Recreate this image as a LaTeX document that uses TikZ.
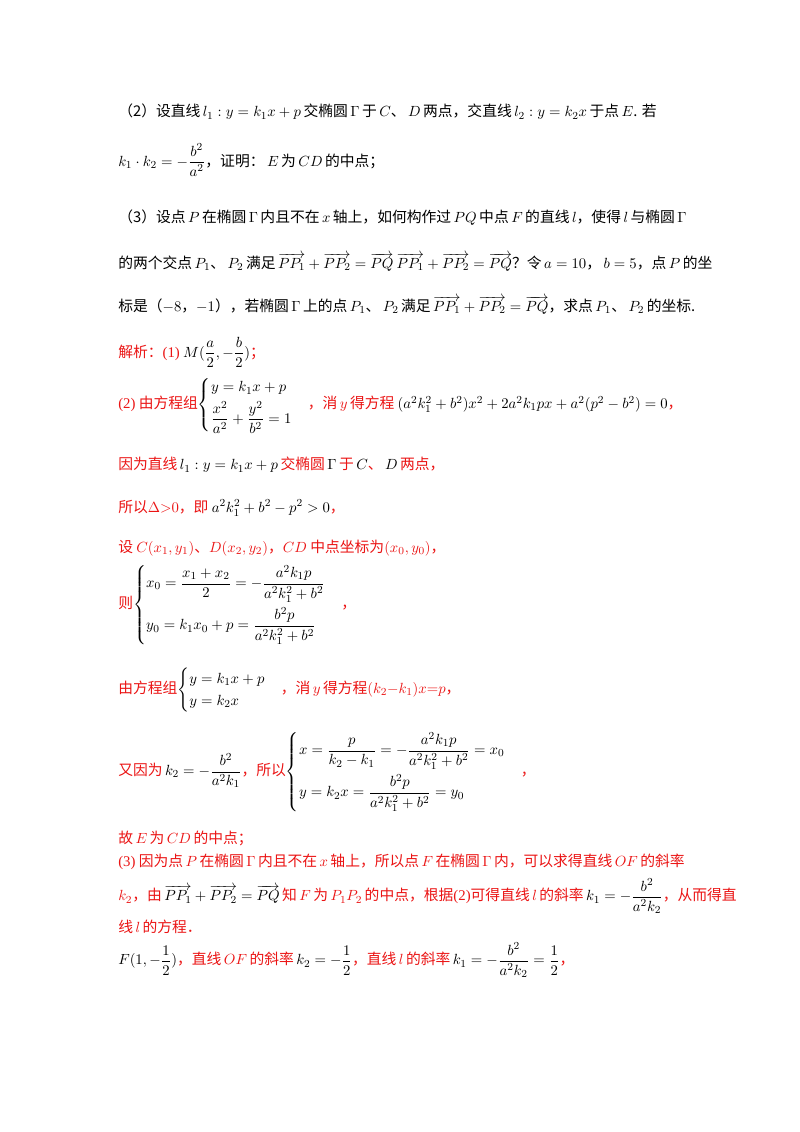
\documentclass[tikz,border=0pt]{standalone}
\usepackage{amsmath}
\usepackage{fontspec}
\setmainfont{Noto Sans CJK SC}
\newfontfamily\tnr{Liberation Serif}
\definecolor{rd}{RGB}{235,20,20}
\newcommand{\Rd}[1]{\textcolor{rd}{#1}}
\begin{document}
\begin{tikzpicture}[x=0.744pt,y=-0.744pt,
  ln/.style={anchor=west,inner sep=0pt,font=\fontsize{11}{13.5}\selectfont}]
\useasboundingbox (0,0) rectangle (800,1132);
\fill[white] (0,0) rectangle (800,1132);
\node[ln] (a1) at (118,112) {（2）设直线$\,l_1:y=k_1x+p\,$交椭圆$\,\Gamma\,$于$\,C$、$\,D\,$两点，交直线$\,l_2:y=k_2x\,$于点$\,E$. 若};
\node[ln] (a2) at (118,160) {$k_1\cdot k_2=-\dfrac{b^2}{a^2}$，证明：$\,E\,$为$\,CD\,$的中点；};
\node[ln] (a3) at (118,218) {（3）设点$\,P\,$在椭圆$\,\Gamma\,$内且不在$\,x\,$轴上，如何构作过$\,PQ\,$中点$\,F\,$的直线$\,l$，使得$\,l\,$与椭圆$\,\Gamma$};
\node[ln] (a4) at (118,262) {的两个交点$\,P_1$、$\,P_2\,$满足$\,\overrightarrow{PP_1}+\overrightarrow{PP_2}=\overrightarrow{PQ}\ \overrightarrow{PP_1}+\overrightarrow{PP_2}=\overrightarrow{PQ}$？令$\,a=10$，$\,b=5$，点$\,P\,$的坐};
\node[ln] (a5) at (118,305) {标是（$-8$，$-1$），若椭圆$\,\Gamma\,$上的点$\,P_1$、$\,P_2\,$满足$\,\overrightarrow{PP_1}+\overrightarrow{PP_2}=\overrightarrow{PQ}$，求点$\,P_1$、$\,P_2\,$的坐标.};
\node[ln] (b1) at (118,352) {\Rd{解析：{\tnr(1)} }$M(\dfrac{a}{2},-\dfrac{b}{2})$\Rd{；}};
\node[ln] (b2) at (118,405) {\Rd{{\tnr(2)} 由方程组}$\begin{cases}y=k_1x+p\\[2pt] \dfrac{x^2}{a^2}+\dfrac{y^2}{b^2}=1\end{cases}$\Rd{，消$\,y\,$得方程}\ $(a^2k_1^2+b^2)x^2+2a^2k_1px+a^2(p^2-b^2)=0$\Rd{，}};
\node[ln] (b3) at (118,465) {\Rd{因为直线}$\,l_1:y=k_1x+p\,$\Rd{交椭圆}$\,\Gamma\,$\Rd{于}$\,C$\Rd{、}$\,D\,$\Rd{两点，}};
\node[ln] (b4) at (118,508) {\Rd{所以$\Delta{>}0$，即}\ $a^2k_1^2+b^2-p^2>0$\Rd{，}};
\node[ln] (b5) at (118,548) {\Rd{设 $C(x_1,y_1)$、$D(x_2,y_2)$，$CD$ 中点坐标为$(x_0,y_0)$，}};
\node[ln] (b6) at (118,605) {\Rd{则}$\begin{cases}x_0=\dfrac{x_1+x_2}{2}=-\dfrac{a^2k_1p}{a^2k_1^2+b^2}\\[10pt] y_0=k_1x_0+p=\dfrac{b^2p}{a^2k_1^2+b^2}\end{cases}$\Rd{，}};
\node[ln] (b7) at (118,690) {\Rd{由方程组}$\begin{cases}y=k_1x+p\\ y=k_2x\end{cases}$\Rd{，消$\,y\,$得方程$(k_2{-}k_1)x{=}p$，}};
\node[ln] (b8) at (118,772) {\Rd{又因为}$\,k_2=-\dfrac{b^2}{a^2k_1}$\Rd{，所以}$\begin{cases}x=\dfrac{p}{k_2-k_1}=-\dfrac{a^2k_1p}{a^2k_1^2+b^2}=x_0\\[10pt] y=k_2x=\dfrac{b^2p}{a^2k_1^2+b^2}=y_0\end{cases}$\Rd{，}};
\node[ln] (b9) at (118,838) {\Rd{故$\,E\,$为$\,CD\,$的中点；}};
\node[ln] (c1) at (118,862) {\Rd{{\tnr(3)} 因为点$\,P\,$在椭圆$\,\Gamma\,$内且不在$\,x\,$轴上，所以点$\,F\,$在椭圆$\,\Gamma\,$内，可以求得直线$\,OF\,$的斜率}};
\node[ln] (c2) at (118,896) {\Rd{$k_2$，由}$\,\overrightarrow{PP_1}+\overrightarrow{PP_2}=\overrightarrow{PQ}\,$\Rd{知$\,F\,$为$\,P_1P_2\,$的中点，根据{\tnr(2)}可得直线$\,l\,$的斜率}$\,k_1=-\dfrac{b^2}{a^2k_2}$\Rd{，从而得直}};
\node[ln] (c3) at (118,927) {\Rd{线$\,l\,$的方程．}};
\node[ln] (c4) at (118,960) {$F(1,-\dfrac{1}{2})$\Rd{，直线$\,OF\,$的斜率}$\,k_2=-\dfrac{1}{2}$\Rd{，直线$\,l\,$的斜率}$\,k_1=-\dfrac{b^2}{a^2k_2}=\dfrac{1}{2}$\Rd{，}};
\end{tikzpicture}
\end{document}
